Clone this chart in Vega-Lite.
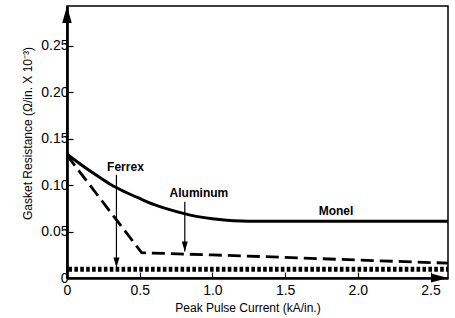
{
  "$schema": "https://vega.github.io/schema/vega-lite/v6.json",
  "width": 381,
  "height": 272,
  "autosize": {"type": "none"},
  "padding": {"left": 67, "top": 6, "right": 7, "bottom": 40},
  "background": "white",
  "config": {
    "view": {"stroke": "black", "strokeWidth": 1.5},
    "font": "Liberation Sans",
    "axis": {
      "grid": false,
      "domainColor": "black",
      "domainWidth": 2.7,
      "tickColor": "black",
      "tickWidth": 1.2,
      "labelColor": "black",
      "titleColor": "black",
      "labelFont": "Liberation Sans",
      "titleFont": "Liberation Sans",
      "labelFontSize": 14,
      "titleFontSize": 12,
      "titleFontWeight": "normal"
    }
  },
  "datasets": {
    "curves": [
      {"series": "Monel", "x": 0, "y": 0.133},
      {"series": "Monel", "x": 0.1, "y": 0.1215},
      {"series": "Monel", "x": 0.2, "y": 0.1107},
      {"series": "Monel", "x": 0.3, "y": 0.1005},
      {"series": "Monel", "x": 0.4, "y": 0.0925},
      {"series": "Monel", "x": 0.5, "y": 0.0855},
      {"series": "Monel", "x": 0.6, "y": 0.079},
      {"series": "Monel", "x": 0.7, "y": 0.0738},
      {"series": "Monel", "x": 0.8, "y": 0.0695},
      {"series": "Monel", "x": 0.9, "y": 0.066},
      {"series": "Monel", "x": 1.0, "y": 0.0637},
      {"series": "Monel", "x": 1.1, "y": 0.0622},
      {"series": "Monel", "x": 1.2, "y": 0.0614},
      {"series": "Monel", "x": 1.3, "y": 0.0611},
      {"series": "Monel", "x": 1.6, "y": 0.061},
      {"series": "Monel", "x": 2.62, "y": 0.061},
      {"series": "Aluminum", "x": 0, "y": 0.132},
      {"series": "Aluminum", "x": 0.513, "y": 0.0272},
      {"series": "Aluminum", "x": 1.0, "y": 0.0248},
      {"series": "Aluminum", "x": 1.5, "y": 0.0222},
      {"series": "Aluminum", "x": 2.0, "y": 0.0193},
      {"series": "Aluminum", "x": 2.62, "y": 0.016},
      {"series": "Ferrex", "x": 0.01, "y": 0.0095},
      {"series": "Ferrex", "x": 2.62, "y": 0.0095}
    ],
    "arrows": [
      {"label": "Ferrex", "x": 0.34, "y": 0.111, "tip": 0.0113},
      {"label": "Aluminum", "x": 0.81, "y": 0.082, "tip": 0.0285}
    ],
    "labels": [
      {"text": "Ferrex", "x": 0.402, "y": 0.1195},
      {"text": "Aluminum", "x": 0.907, "y": 0.0913},
      {"text": "Monel", "x": 1.85, "y": 0.072}
    ],
    "axisArrows": [
      {"axis": "y", "x": 0, "y": 0.2925},
      {"axis": "x", "x": 2.62, "y": 0}
    ]
  },
  "layer": [
    {
      "data": {"name": "curves"},
      "transform": [{"filter": "datum.series === 'Monel'"}],
      "mark": {"type": "line", "color": "black", "strokeWidth": 3, "interpolate": "monotone"},
      "encoding": {
        "x": {
          "field": "x", "type": "quantitative",
          "scale": {"domain": [0, 2.62], "nice": false},
          "axis": {
            "values": [0, 0.5, 1.0, 1.5, 2.0, 2.5],
            "labelExpr": "datum.value == 0 ? '0' : format(datum.value, '.1f')",
            "tickSize": -6,
            "labelPadding": 11,
            "labelFlush": false,
            "title": "Peak Pulse Current (kA/in.)",
            "titleX": 180.5,
            "titleY": 33,
            "titleAlign": "center",
            "titleBaseline": "alphabetic",
            "titleAnchor": null
          }
        },
        "y": {
          "field": "y", "type": "quantitative",
          "scale": {"domain": [0, 0.2925], "nice": false},
          "axis": {
            "values": [0, 0.05, 0.1, 0.15, 0.2, 0.25],
            "labelExpr": "datum.value == 0 ? '0' : format(datum.value, '.2f')",
            "tickSize": -6,
            "labelPadding": 5,
            "labelFlush": false,
            "title": "Gasket Resistance (Ω/in. X 10⁻³)",
            "titleX": -36,
            "titleY": 127,
            "titleAlign": "center",
            "titleBaseline": "alphabetic",
            "titleAngle": -90,
            "titleAnchor": null
          }
        }
      }
    },
    {
      "data": {"name": "curves"},
      "transform": [{"filter": "datum.series === 'Aluminum'"}],
      "mark": {"type": "line", "color": "black", "strokeWidth": 2.8, "strokeDash": [13, 6], "strokeCap": "butt"},
      "encoding": {
        "x": {"field": "x", "type": "quantitative"},
        "y": {"field": "y", "type": "quantitative"}
      }
    },
    {
      "data": {"name": "curves"},
      "transform": [{"filter": "datum.series === 'Ferrex'"}],
      "mark": {"type": "line", "color": "black", "strokeWidth": 5, "strokeDash": [3.6, 2.3], "strokeCap": "butt"},
      "encoding": {
        "x": {"field": "x", "type": "quantitative"},
        "y": {"field": "y", "type": "quantitative"}
      }
    },
    {
      "data": {"name": "arrows"},
      "mark": {"type": "rule", "color": "black", "strokeWidth": 1.2},
      "encoding": {
        "x": {"field": "x", "type": "quantitative"},
        "y": {"field": "y", "type": "quantitative"},
        "y2": {"field": "tip"}
      }
    },
    {
      "data": {"name": "arrows"},
      "mark": {"type": "point", "filled": true, "color": "black", "opacity": 1, "shape": "M0,0L-0.3,-1L0.3,-1Z", "size": 400, "strokeWidth": 0},
      "encoding": {
        "x": {"field": "x", "type": "quantitative"},
        "y": {"field": "tip", "type": "quantitative"}
      }
    },
    {
      "data": {"name": "labels"},
      "mark": {"type": "text", "font": "Liberation Sans", "fontWeight": "bold", "fontSize": 12, "color": "black", "align": "center", "baseline": "middle"},
      "encoding": {
        "x": {"field": "x", "type": "quantitative"},
        "y": {"field": "y", "type": "quantitative"},
        "text": {"field": "text"}
      }
    },
    {
      "data": {"name": "axisArrows"},
      "transform": [{"filter": "datum.axis === 'y'"}],
      "mark": {"type": "point", "filled": true, "color": "black", "opacity": 1, "shape": "M0,0L-0.28,1L0.28,1Z", "size": 1156, "strokeWidth": 0, "clip": false},
      "encoding": {
        "x": {"field": "x", "type": "quantitative"},
        "y": {"field": "y", "type": "quantitative"}
      }
    },
    {
      "data": {"name": "axisArrows"},
      "transform": [{"filter": "datum.axis === 'x'"}],
      "mark": {"type": "point", "filled": true, "color": "black", "opacity": 1, "shape": "M0,0L-1,-0.26L-1,0.26Z", "size": 1156, "strokeWidth": 0, "clip": false},
      "encoding": {
        "x": {"field": "x", "type": "quantitative"},
        "y": {"field": "y", "type": "quantitative"}
      }
    }
  ]
}
